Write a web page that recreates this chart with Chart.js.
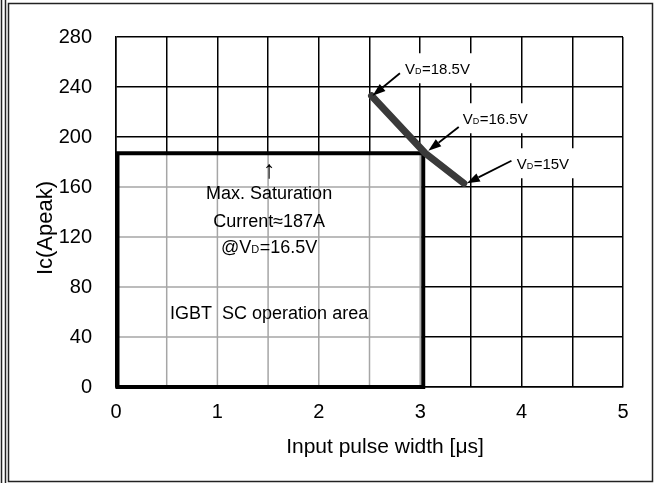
<!DOCTYPE html>
<html>
<head>
<meta charset="utf-8">
<script src="https://cdn.jsdelivr.net/npm/chart.js@4.4.0/dist/chart.umd.min.js"></script>
<style>
  html, body { margin: 0; padding: 0; background: #fff; }
  #wrap { width: 657px; height: 483px; }
</style>
</head>
<body>
<div id="wrap"><canvas id="scChart" width="657" height="483"></canvas></div>
<script>
// short-circuit limit curve, Ic peak vs pulse width
const pulseWidth = [2.52, 3.05, 3.43];
const icPeak = [233, 187, 163];

// SC operation area box
const scAreaWidth = 3.03;
const scAreaCurrent = 187;

const xMin = 0, xMax = 5, xStep = 0.5;
const yMin = 0, yMax = 280, yStep = 40;

// gate voltage callouts (label centre, arrow tail, arrow tip in data units)
const vdLabels = ['18.5V', '16.5V', '15V'];
const vdLabelX = [3.17, 3.74, 4.21];
const vdLabelY = [255, 215, 179];
const vdTailX = [2.80, 3.38, 3.90];
const vdTailY = [251, 208, 181];
const vdTipX = [2.53, 3.08, 3.46];
const vdTipY = [233, 189, 163];

const FONT = '"Liberation Sans", Arial, sans-serif';

function drawVd(ctx, prefix, value, cx, cy, size, align) {
    // "V" + small "D" + "=value"
    const big = size + 'px ' + FONT;
    const small = Math.round(size * 0.62) + 'px ' + FONT;
    ctx.font = big;
    const wP = ctx.measureText(prefix + 'V').width;
    const wE = ctx.measureText('=' + value).width;
    ctx.font = small;
    const wD = ctx.measureText('D').width + 0.5;
    const total = wP + wD + wE;
    let x = align === 'center' ? cx - total / 2 : cx;
    ctx.textBaseline = 'alphabetic';
    ctx.textAlign = 'left';
    const base = cy + size * 0.36;
    ctx.font = big;
    ctx.fillText(prefix + 'V', x, base);
    x += wP;
    ctx.font = small;
    ctx.fillText('D', x, base);
    x += wD;
    ctx.font = big;
    ctx.fillText('=' + value, x, base);
    return total;
}

function arrow(ctx, x1, y1, x2, y2) {
    const ang = Math.atan2(y2 - y1, x2 - x1);
    const head = 13, half = 4.5;
    const bx = x2 - head * Math.cos(ang), by = y2 - head * Math.sin(ang);
    ctx.strokeStyle = '#000';
    ctx.lineWidth = 1.8;
    ctx.beginPath();
    ctx.moveTo(x1, y1);
    ctx.lineTo(bx, by);
    ctx.stroke();
    ctx.fillStyle = '#000';
    ctx.beginPath();
    ctx.moveTo(x2, y2);
    ctx.lineTo(bx + half * Math.sin(ang), by - half * Math.cos(ang));
    ctx.lineTo(bx - half * Math.sin(ang), by + half * Math.cos(ang));
    ctx.closePath();
    ctx.fill();
}

const scAreaPlugin = {
    id: 'scArea',
    beforeDatasetsDraw(chart) {
        const ctx = chart.ctx;
        const xs = chart.scales.x, ys = chart.scales.y;
        const left = xs.getPixelForValue(0), right = xs.getPixelForValue(scAreaWidth);
        const top = ys.getPixelForValue(scAreaCurrent), bottom = ys.getPixelForValue(0);
        ctx.save();
        ctx.fillStyle = '#fff';
        ctx.fillRect(left, top, right - left, bottom - top);
        // lighter grid inside the area
        ctx.strokeStyle = '#a6a6a6';
        ctx.lineWidth = 1.5;
        ctx.beginPath();
        xs.ticks.forEach(t => {
            if (t.value > 0 && t.value < scAreaWidth) {
                const p = xs.getPixelForValue(t.value);
                ctx.moveTo(p, top); ctx.lineTo(p, bottom);
            }
        });
        ys.ticks.forEach(t => {
            if (t.value > 0 && t.value < scAreaCurrent) {
                const p = ys.getPixelForValue(t.value);
                ctx.moveTo(left, p); ctx.lineTo(right, p);
            }
        });
        ctx.stroke();
        ctx.strokeStyle = '#000';
        ctx.lineWidth = 4;
        ctx.strokeRect(left + 1.5, top, right - left - 1.5, bottom - top);

        // white boxes behind the callouts
        ctx.font = '15px ' + FONT;
        vdLabels.forEach((v, i) => {
            const cx = xs.getPixelForValue(vdLabelX[i]);
            const cy = ys.getPixelForValue(vdLabelY[i]);
            const w = ctx.measureText('VD=' + v).width;
            ctx.fillStyle = '#fff';
            ctx.fillRect(cx - w / 2 - 6, cy - 15, w + 14, 30);
        });
        ctx.restore();
    },
    afterDraw(chart) {
        const ctx = chart.ctx;
        const xs = chart.scales.x, ys = chart.scales.y;
        ctx.save();
        ctx.fillStyle = '#000';

        // callouts
        vdLabels.forEach((v, i) => {
            const cx = xs.getPixelForValue(vdLabelX[i]);
            const cy = ys.getPixelForValue(vdLabelY[i]);
            ctx.fillStyle = '#000';
            drawVd(ctx, '', v, cx, cy, 15, 'center');
            arrow(ctx, xs.getPixelForValue(vdTailX[i]), ys.getPixelForValue(vdTailY[i]),
                xs.getPixelForValue(vdTipX[i]), ys.getPixelForValue(vdTipY[i]));
        });

        // text inside the SC area
        const mid = xs.getPixelForValue(1.51);
        ctx.fillStyle = '#000';
        ctx.textAlign = 'center';
        ctx.textBaseline = 'middle';
        ctx.font = '25px ' + FONT;
        ctx.fillText('\u2191', mid, ys.getPixelForValue(173));
        ctx.font = '18px ' + FONT;
        ctx.fillText('Max. Saturation', mid, ys.getPixelForValue(154));
        ctx.fillText('Current\u2248187A', mid, ys.getPixelForValue(132));
        drawVd(ctx, '@', '16.5V', mid, ys.getPixelForValue(112), 18, 'center');
        ctx.textAlign = 'center';
        ctx.textBaseline = 'middle';
        ctx.font = '18px ' + FONT;
        ctx.fillText('IGBT  SC operation area', mid, ys.getPixelForValue(58));

        // axis titles
        ctx.font = '21px ' + FONT;
        ctx.fillText('Input pulse width [\u03bcs]', 385, 447);
        ctx.translate(46, 228);
        ctx.rotate(-Math.PI / 2);
        ctx.font = '22px ' + FONT;
        ctx.fillText('Ic(Apeak)', 0, 0);
        ctx.restore();

        // outer frame
        ctx.save();
        ctx.strokeStyle = '#222';
        ctx.lineWidth = 1.5;
        ctx.beginPath();
        ctx.moveTo(1.5, 0); ctx.lineTo(1.5, 483);
        ctx.moveTo(5.5, 0); ctx.lineTo(5.5, 483);
        ctx.stroke();
        ctx.strokeRect(8.5, 3.5, 644, 478);
        ctx.restore();
    }
};

const ctx = document.getElementById('scChart').getContext('2d');
new Chart(ctx, {
    type: 'scatter',
    data: {
        datasets: [{
            data: pulseWidth.map((x, i) => ({ x: x, y: icPeak[i] })),
            showLine: true,
            borderColor: '#3a3a3a',
            borderWidth: 7,
            borderCapStyle: 'round',
            borderJoinStyle: 'round',
            pointRadius: 0,
            tension: 0
        }]
    },
    options: {
        responsive: false,
        animation: false,
        layout: { padding: { left: 0, right: 34, top: 37, bottom: 0 } },
        plugins: {
            legend: { display: false },
            tooltip: { enabled: false }
        },
        scales: {
            x: {
                type: 'linear',
                min: xMin,
                max: xMax,
                afterFit: (s) => { s.height = 96; },
                ticks: {
                    stepSize: xStep,
                    autoSkip: false,
                    maxRotation: 0,
                    padding: 13,
                    color: '#000',
                    font: { family: FONT, size: 20 },
                    callback: (v) => Number.isInteger(v) ? v : ''
                },
                grid: { color: '#000', lineWidth: 1.5, drawTicks: false },
                border: { color: '#000', width: 1.5 }
            },
            y: {
                type: 'linear',
                min: yMin,
                max: yMax,
                afterFit: (s) => { s.width = 116; },
                ticks: {
                    stepSize: yStep,
                    padding: 24,
                    color: '#000',
                    font: { family: FONT, size: 20 }
                },
                grid: { color: '#000', lineWidth: 1.5, drawTicks: false },
                border: { color: '#000', width: 1.5 }
            }
        }
    },
    plugins: [scAreaPlugin]
});
</script>
</body>
</html>
